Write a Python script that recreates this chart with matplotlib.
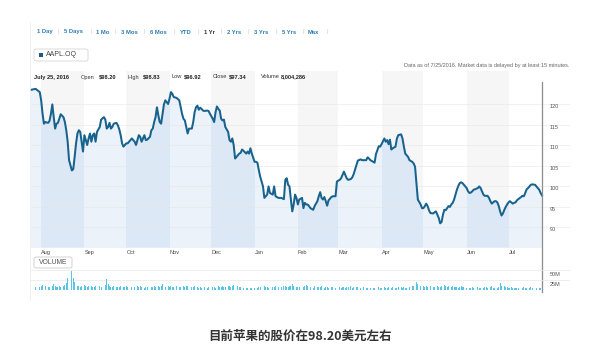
import numpy as np
import pandas as pd
import matplotlib
matplotlib.use("Agg")
import matplotlib.pyplot as plt
from matplotlib.patches import FancyBboxPatch, Rectangle
from matplotlib.lines import Line2D
from matplotlib.transforms import offset_copy

plt.rcParams['font.family'] = ['Liberation Sans', 'Noto Sans CJK SC', 'DejaVu Sans']

start = pd.Timestamp('2015-07-24')
end = pd.Timestamp('2016-07-25')

# days after 2015-07-24, one line per month
days = [0, 4, 7, 8, 9, 10, 11, 13, 14, 15, 16, 17, 18, 19, 20, 21, 22, 24, 25, 26, 27, 28, 30, 31, 32, 33, 34, 35, 36, 37, 38,
        39, 40, 41, 42, 43, 44, 45, 46, 47, 48, 50, 51, 53, 54, 55, 56, 57, 58, 59, 60, 62, 63, 64, 65, 66, 67, 68,
        69, 70, 71, 73, 75, 76, 77, 78, 79, 80, 81, 82, 83, 84, 86, 87, 88, 89, 90, 91, 92, 93, 94, 95, 96, 97, 99,
        100, 101, 102, 103, 105, 107, 108, 109, 110, 111, 112, 113, 114, 116, 117, 118, 119, 120, 121, 122, 123, 124, 125, 127, 128, 129,
        131, 132, 133, 134, 135, 136, 137, 138, 139, 140, 142, 143, 144, 145, 146, 147, 149, 150, 151, 152, 153, 155, 156, 157, 158, 159,
        161, 162, 163, 164, 165, 167, 168, 169, 170, 171, 172, 174, 175, 176, 177, 178, 180, 182, 183, 184, 185, 186, 187, 188, 189, 190, 191,
        192, 193, 195, 196, 197, 198, 199, 200, 201, 203, 204, 206, 207, 208, 209, 210, 211, 212, 213, 214, 216, 217, 219, 220,
        222, 223, 224, 225, 226, 227, 228, 230, 231, 232, 234, 235, 237, 238, 239, 241, 242, 243, 244, 246, 247, 248, 250, 251,
        252, 254, 255, 256, 257, 258, 259, 260, 262, 263, 264, 266, 267, 268, 269, 270, 271, 272, 274, 275, 276, 277, 278, 280, 281,
        282, 283, 284, 285, 286, 287, 289, 290, 291, 292, 293, 294, 295, 296, 297, 298, 299, 300, 301, 302, 303, 304, 305, 306, 307, 308, 309, 310, 311,
        313, 314, 315, 316, 317, 318, 319, 321, 322, 323, 324, 325, 326, 327, 328, 329, 330, 331, 332, 333, 334, 335, 336, 337, 338, 339, 340, 341, 342,
        343, 344, 345, 346, 347, 348, 349, 350, 352, 353, 354, 355, 356, 357, 358, 359, 360, 362, 363, 365, 366, 367]

prices = [123.4, 123.7, 122.9, 120.9, 117.6, 115.2, 115.6, 115.4, 115.9, 117.6, 119.9, 116.8, 114.0, 115.2, 115.4, 116.4, 117.5, 116.8, 115.6, 113.6, 110.8, 106.3, 103.8, 104.1, 107.1, 110.4, 112.8, 113.6, 113.2, 110.8, 108.4,
          112.4, 111.2, 110.0, 111.6, 112.8, 110.8, 112.4, 112.8, 110.8, 113.2, 114.4, 116.2, 116.8, 116.2, 114.0, 114.4, 115.4, 114.0, 114.4, 115.2, 115.4, 114.8, 113.8, 112.4, 110.4, 109.6, 110.0,
          110.4, 110.4, 110.8, 111.6, 110.8, 110.0, 111.2, 112.4, 112.0, 110.8, 111.6, 112.4, 111.2, 111.3, 112.0, 113.6, 114.0, 115.6, 116.8, 119.2, 117.2, 115.6, 115.2, 117.6, 119.9, 120.9, 120.0,
          121.3, 122.9, 122.5, 121.7, 121.5, 120.9, 119.2, 117.6, 116.4, 116.0, 114.4, 112.8, 114.0, 114.0, 115.6, 118.0, 119.2, 119.6, 118.6, 119.1, 118.8, 118.4, 118.3, 118.4, 118.3, 117.6,
          116.4, 115.6, 118.0, 119.4, 118.8, 118.4, 116.4, 116.0, 116.2, 114.4, 113.2, 111.2, 110.8, 111.6, 110.0, 106.7, 107.5, 107.9, 108.1, 108.9, 108.6, 107.9, 108.4, 107.9, 109.2, 107.9,
          105.9, 105.9, 105.7, 103.9, 102.3, 99.9, 97.1, 97.5, 97.9, 99.9, 98.3, 97.9, 99.9, 97.5, 97.3, 97.1, 97.1, 96.8, 101.5, 101.9, 100.3, 99.9, 96.7, 93.8, 95.5, 97.9, 97.1,
          95.5, 96.7, 97.1, 94.6, 95.9, 95.5, 95.5, 95.1, 94.6, 94.2, 95.1, 96.3, 97.5, 98.5, 97.1, 96.7, 97.3, 96.3, 95.2, 96.5, 97.3, 97.5, 97.5, 101.1,
          101.5, 101.9, 102.7, 103.5, 102.7, 101.9, 101.5, 101.7, 102.1, 102.9, 105.1, 106.2, 106.5, 106.3, 106.3, 106.3, 107.0, 106.7, 106.3, 105.9, 105.7, 107.8, 109.7, 109.6,
          110.2, 111.6, 110.8, 111.2, 110.2, 111.3, 108.9, 109.2, 109.6, 111.6, 112.4, 112.6, 111.6, 109.6, 107.9, 107.5, 107.1, 106.3, 105.9, 105.5, 104.7, 100.7, 96.7, 95.5, 94.6,
          94.6, 95.1, 95.7, 95.1, 94.1, 93.4, 93.3, 93.6, 93.8, 93.0, 92.2, 90.9, 91.2, 93.0, 94.2, 94.1, 94.6, 95.1, 94.9, 95.5, 95.9, 96.7, 97.9, 99.1, 100.0, 100.7, 100.9, 100.7, 100.3,
          99.5, 98.7, 98.3, 98.4, 98.7, 99.1, 99.2, 99.5, 99.9, 99.5, 98.7, 97.9, 97.6, 97.6, 97.6, 97.1, 96.3, 95.7, 96.0, 96.3, 96.3, 96.0, 95.1, 93.8, 92.8, 93.3, 94.2, 94.9, 95.5,
          96.0, 96.3, 96.0, 95.7, 95.9, 96.0, 96.5, 96.8, 97.3, 97.6, 97.5, 98.3, 99.2, 99.5, 99.9, 100.3, 100.4, 100.3, 99.9, 99.1, 98.3, 97.7]

# volume in millions, same days
volumes = [6, 8, 7, 9, 12, 16, 10, 8, 7, 9, 11, 14, 9, 8, 7, 10, 8, 9, 12, 18, 29, 22, 47, 30, 20, 13, 11, 9, 8, 10, 8,
           12, 9, 8, 10, 8, 9, 7, 8, 9, 10, 9, 8, 10, 12, 27, 15, 9, 8, 7, 9, 8, 8, 7, 9, 8, 7, 8,
           9, 8, 10, 7, 8, 7, 9, 8, 10, 7, 8, 6, 7, 8, 9, 7, 8, 9, 8, 11, 9, 8, 9, 14, 10, 8, 9,
           8, 9, 7, 8, 9, 7, 8, 10, 9, 8, 9, 11, 8, 7, 8, 9, 7, 8, 6, 7, 6, 5, 7, 6, 7, 8,
           8, 7, 6, 8, 9, 7, 8, 9, 7, 8, 9, 10, 8, 11, 12, 37, 10, 8, 7, 6, 5, 6, 5, 4, 5, 6,
           4, 3, 5, 8, 7, 9, 10, 8, 7, 6, 9, 8, 7, 10, 9, 8, 7, 9, 10, 8, 7, 9, 10, 14, 11, 8, 7,
           8, 7, 9, 8, 10, 12, 9, 8, 7, 6, 9, 8, 7, 8, 9, 7, 6, 8, 7, 6, 7, 8, 6, 9,
           7, 6, 8, 7, 6, 8, 7, 9, 6, 7, 8, 7, 6, 11, 7, 6, 5, 7, 6, 5, 6, 7, 8, 6,
           6, 7, 5, 6, 7, 8, 6, 7, 5, 6, 8, 7, 6, 7, 6, 5, 7, 8, 9, 10, 12, 20, 15, 11, 9,
           10, 8, 9, 7, 8, 9, 7, 8, 10, 9, 8, 7, 9, 8, 12, 9, 8, 10, 7, 8, 9, 8, 7, 8, 6, 7, 9, 8, 7,
           6, 7, 5, 6, 7, 5, 6, 7, 6, 5, 6, 5, 7, 8, 6, 5, 7, 9, 6, 5, 7, 6, 8, 18, 10, 16, 9, 8, 7,
           5, 6, 7, 5, 6, 5, 4, 6, 5, 6, 7, 6, 5, 6, 5, 7, 6, 5, 6, 4, 5, 6]

ranges = ['1 Day', '5 Days', '1 Mo', '3 Mos', '6 Mos', 'YTD', '1 Yr', '2 Yrs', '3 Yrs', '5 Yrs', 'Max']
selected = '1 Yr'
ticker = 'AAPL.OQ'
quote_date = 'July 25, 2016'
quote_labels = ['Open', 'High', 'Low', 'Close', 'Volume']
quote_values = ['$98.20', '$98.83', '$96.92', '$97.34', '8,004,286']
price_ticks = [90, 95, 100, 105, 110, 115, 120]
vol_ticks = [25, 50]
note = 'Data as of 7/25/2016. Market data is delayed by at least 15 minutes.'
caption = '目前苹果的股价在98.20美元左右'

dates = start + pd.to_timedelta(days, unit='D')
months = pd.date_range('2015-08-01', '2016-07-01', freq='MS')

W, H = 600, 356
def fx(px):
    return px / W
def fy(py):
    return 1 - py / H

fig = plt.figure(figsize=(6, 3.56), dpi=100)
fig.patch.set_facecolor('white')

px_per_day = 512 / 367
xright = end + pd.Timedelta(days=28 / px_per_day)

# price panel
ax = fig.add_axes([fx(30), fy(247.5), fx(540), 176.5 / H])
ax.set_xlim(start, xright)
ax.set_ylim(85, 128.05)
ax.axis('off')

for i, m in enumerate(months):
    m_end = months[i + 1] if i + 1 < len(months) else end
    if i % 2 == 0:
        ax.axvspan(m, m_end, color='#f6f6f6', lw=0, zorder=0)

poly = ax.fill_between(dates, prices, 85, color='#ecf2f9', lw=0, zorder=1)
clip = poly.get_paths()[0]
for i, m in enumerate(months):
    m_end = months[i + 1] if i + 1 < len(months) else end
    if i % 2 == 0:
        sp = ax.axvspan(m, m_end, color='#dce8f6', lw=0, zorder=1.5)
        sp.set_clip_path(clip, poly.get_transform())

for v in price_ticks + [85]:
    ax.axhline(v, color='#e6e6e6', lw=0.5, zorder=2, alpha=0.8)

ax.plot(dates, prices, color='#17638e', lw=1.45, zorder=3, solid_joinstyle='round')
ax.plot([end, end], [74.1, 125.4], color='#8c8c8c', lw=0.9, clip_on=False, zorder=4)

lab_tr = offset_copy(ax.get_yaxis_transform(), fig=fig, y=-2.5, units='dots')
for v in price_ticks:
    ax.text(520 / 540, v, str(v), transform=lab_tr, ha='left', va='center',
            fontsize=4.0, color='#555555')

for m in months:
    ax.text(m, -0.026, m.strftime('%b'), transform=ax.get_xaxis_transform(),
            ha='left', va='center', fontsize=4.0, color='#444444')

# volume panel
axv = fig.add_axes([fx(30), fy(290), fx(540), 27 / H])
axv.set_xlim(start, xright)
axv.set_ylim(0, 67.5)
axv.axis('off')
for v in vol_ticks:
    axv.axhline(v, color='#e8e8e8', lw=0.5, zorder=0)
axv.axhline(0, color='#dddddd', lw=0.6, zorder=0)
axv.bar(dates, volumes, width=0.6, color='#5bc4e6', lw=0, zorder=2)
vlab_tr = offset_copy(axv.get_yaxis_transform(), fig=fig, y=-5, units='dots')
for v in vol_ticks:
    axv.text(520 / 540, v, f'{v}M', transform=vlab_tr, ha='left', va='center',
             fontsize=4.0, color='#555555')

# header: range selector
range_x = [37, 64, 96, 121, 150, 180, 204, 227, 254, 282, 308]
for x, r in zip(range_x, ranges):
    fig.text(fx(x), fy(32), r, ha='left', va='center', fontsize=4.2,
             fontweight='bold', color='#333333' if r == selected else '#2b7db4')
for x in [58, 91, 115, 144, 174, 198, 221, 248, 276, 303, 327]:
    fig.text(fx(x), fy(32), '|', ha='center', va='center', fontsize=4.5, color='#cccccc')

# ticker box
fig.patches.append(FancyBboxPatch((fx(34), fy(61)), fx(54), 12 / H,
                                  boxstyle='round,pad=0,rounding_size=0.004',
                                  transform=fig.transFigure, fc='white', ec='#d5d5d5', lw=0.6))
fig.patches.append(Rectangle((fx(39), fy(57)), fx(4), 4 / H, transform=fig.transFigure,
                             fc='#1d5a8a', lw=0))
fig.text(fx(46), fy(55), ticker, ha='left', va='center', fontsize=5.0, color='#444444')

fig.text(fx(569), fy(66), note, ha='right', va='center', fontsize=4.0, color='#666666')

# quote row
fig.text(fx(34), fy(77), quote_date, ha='left', va='center', fontsize=4.1,
         fontweight='bold', color='#222222')
lab_x = [81, 128, 172, 213, 261]
val_x = [99, 143, 184, 229, 281]
for lx, vx, l, v in zip(lab_x, val_x, quote_labels, quote_values):
    fig.text(fx(lx), fy(77), l, ha='left', va='center', fontsize=4.1, color='#333333')
    fig.text(fx(vx), fy(77), v, ha='left', va='center', fontsize=4.1,
             fontweight='bold', color='#222222')

# volume tag
fig.patches.append(FancyBboxPatch((fx(34), fy(268)), fx(38), 11 / H,
                                  boxstyle='round,pad=0,rounding_size=0.004',
                                  transform=fig.transFigure, fc='white', ec='#cccccc', lw=0.6))
fig.text(fx(53), fy(262.5), 'VOLUME', ha='center', va='center', fontsize=4.9, color='#555555')

fig.lines.append(Line2D([fx(30), fx(30)], [fy(22), fy(300)], transform=fig.transFigure,
                        color='#eeeeee', lw=0.6))

fig.text(0.5, fy(336), caption, ha='center', va='center', fontsize=9, fontweight='bold',
         family=['Noto Sans CJK SC', 'DejaVu Sans'], color='#333333')

fig.savefig('out.png', dpi=100, facecolor='white')
